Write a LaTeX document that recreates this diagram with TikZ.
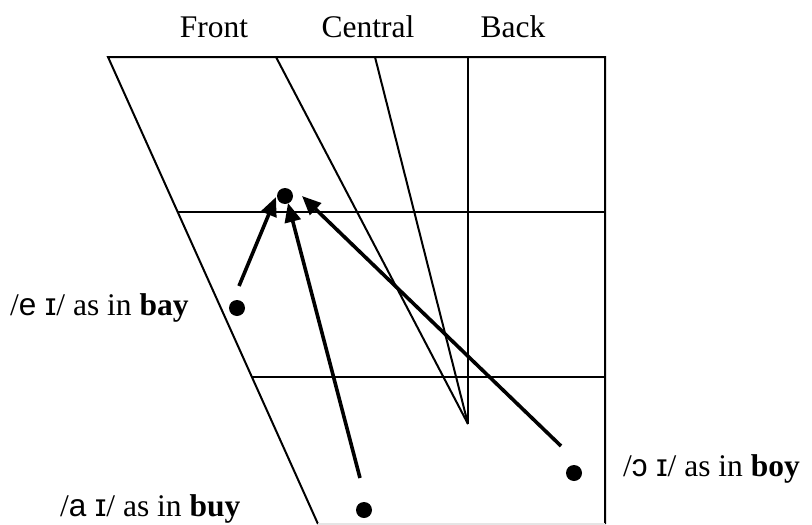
\documentclass[tikz,border=0pt]{standalone}
\usepackage{fontspec}
\setmainfont{Liberation Serif}
\newfontfamily\ipafont{Liberation Sans}
\usetikzlibrary{arrows.meta}
\tikzset{
  chart/.style={line width=2pt, line join=miter},
  glide/.style={line width=3.6pt, -{Triangle[length=19pt,width=16pt]}},
  dot/.style={circle, fill=black, inner sep=0pt, minimum size=16pt},
  lbl/.style={inner sep=0pt, anchor=base west, font=\fontsize{31.5}{36}\selectfont},
  head/.style={inner sep=0pt, anchor=base, font=\fontsize{31.5}{36}\selectfont}
}
\begin{document}
\begin{tikzpicture}[x=1pt,y=-1pt]
\useasboundingbox (0,0) rectangle (812,525);
% corners
\coordinate (tl) at (108,57);
\coordinate (tr) at (605,57);
\coordinate (br) at (605,524);
\coordinate (bl) at (318,524);
\coordinate (t1) at (276,57);
\coordinate (t2) at (375,57);
\coordinate (t3) at (468,57);
\coordinate (apex) at (468,424);
\coordinate (h1l) at (177.8,212);
\coordinate (h1r) at (605,212);
\coordinate (h2l) at (252,377);
\coordinate (h2r) at (605,377);
% outline
\draw[chart] (bl) -- (tl) -- (tr) -- (br);
\draw[chart, gray!20] (bl) -- (br);
\draw[chart] (h1l) -- (h1r);
\draw[chart] (h2l) -- (h2r);
\draw[chart] (t1) -- (apex);
\draw[chart] (t2) -- (apex);
\draw[chart] (t3) -- (apex);
% headings
\node[head] (front) at (214,37) {Front};
\node[head] (central) at (368,37) {Central};
\node[head] (back) at (513,37) {Back};
% dots
\node[dot] (target) at (285,196) {};
\node[dot] (bay) at (237,308) {};
\node[dot] (buy) at (364,510) {};
\node[dot] (boy) at (574,473) {};
% labels
\node[lbl] (baylbl) at (10,315) {/{\ipafont e ɪ}/ as in \textbf{bay}};
\node[lbl] (buylbl) at (60,516) {/{\ipafont a ɪ}/ as in \textbf{buy}};
\node[lbl] (boylbl) at (623,476) {/{\ipafont ɔ ɪ}/ as in \textbf{boy}};
% arrows
\coordinate (s1) at (239,286);
\coordinate (e1) at (276,197);
\coordinate (s2) at (360,478);
\coordinate (e2) at (288,203);
\coordinate (s3) at (561,446);
\coordinate (e3) at (302,196);
\draw[glide] (s1) -- (e1);
\draw[glide] (s2) -- (e2);
\draw[glide] (s3) -- (e3);
\end{tikzpicture}
\end{document}
